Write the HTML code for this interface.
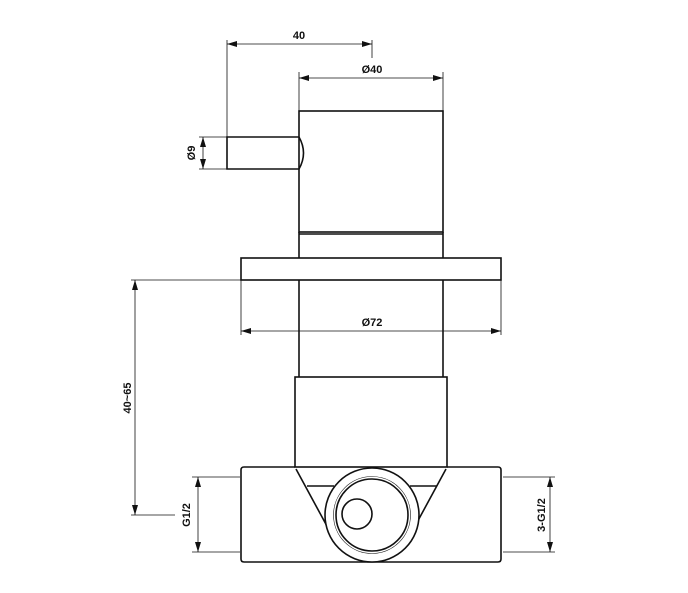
<!DOCTYPE html>
<html><head><meta charset="utf-8"><style>
html,body{margin:0;padding:0;background:#fff;width:688px;height:593px;overflow:hidden}
svg{display:block}
text{font-family:"Liberation Sans",Arial,sans-serif;font-weight:bold;font-size:11px;fill:#111}
</style></head><body>
<svg width="688" height="593" viewBox="0 0 688 593">
<defs>
<marker id="a" viewBox="0 0 10 6" refX="10" refY="3" markerWidth="10" markerHeight="6" orient="auto-start-reverse" markerUnits="userSpaceOnUse"><path d="M0,0 L10,3 L0,6 z" fill="#111"/></marker>
</defs>
<g stroke="#111" stroke-width="0.8" fill="none">
<!-- dim 40 -->
<line x1="227" y1="40" x2="227" y2="137"/>
<line x1="372" y1="40" x2="372" y2="58"/>
<line x1="227" y1="44" x2="372" y2="44" marker-start="url(#a)" marker-end="url(#a)"/>
<!-- Ø40 -->
<line x1="299" y1="72" x2="299" y2="111"/>
<line x1="443" y1="72" x2="443" y2="111"/>
<line x1="299" y1="78" x2="443" y2="78" marker-start="url(#a)" marker-end="url(#a)"/>
<!-- Ø9 -->
<line x1="199" y1="137" x2="227" y2="137"/>
<line x1="199" y1="169" x2="227" y2="169"/>
<line x1="203" y1="137" x2="203" y2="169" marker-start="url(#a)" marker-end="url(#a)"/>
<!-- Ø72 -->
<line x1="241" y1="280" x2="241" y2="335"/>
<line x1="501" y1="280" x2="501" y2="335"/>
<line x1="241" y1="331" x2="501" y2="331" marker-start="url(#a)" marker-end="url(#a)"/>
<!-- 40~65 -->
<line x1="131" y1="280" x2="241" y2="280"/>
<line x1="131" y1="515" x2="175" y2="515"/>
<line x1="135" y1="280" x2="135" y2="515" marker-start="url(#a)" marker-end="url(#a)"/>
<!-- G1/2 -->
<line x1="192" y1="477" x2="240" y2="477"/>
<line x1="192" y1="552" x2="240" y2="552"/>
<line x1="198" y1="477" x2="198" y2="552" marker-start="url(#a)" marker-end="url(#a)"/>
<!-- 3-G1/2 -->
<line x1="503" y1="477" x2="555" y2="477"/>
<line x1="503" y1="552" x2="555" y2="552"/>
<line x1="550" y1="477" x2="550" y2="552" marker-start="url(#a)" marker-end="url(#a)"/>
</g>
<g stroke="#111" stroke-width="1.6" fill="none">
<!-- handle -->
<path d="M299,137 L227,137 L227,169 L299,169 Q308,153 299,137"/>
<rect x="299" y="111" width="144" height="121"/>
<line x1="299" y1="234" x2="443" y2="234"/>
<line x1="299" y1="232" x2="299" y2="258"/>
<line x1="443" y1="232" x2="443" y2="258"/>
<rect x="241" y="258" width="260" height="22"/>
<line x1="299" y1="280" x2="299" y2="377"/>
<line x1="443" y1="280" x2="443" y2="377"/>
<rect x="295" y="377" width="152" height="90"/>
<path d="M295,467 L244,467 Q241,467 241,470 L241,559 Q241,562 244,562 L498,562 Q501,562 501,559 L501,470 Q501,467 498,467 L447,467"/>
<line x1="296" y1="469" x2="328" y2="528"/>
<line x1="446" y1="469" x2="414" y2="528"/>
<line x1="307" y1="486" x2="334" y2="486"/>
<line x1="410" y1="486" x2="437" y2="486"/>
<circle cx="372" cy="515" r="47" fill="#fff"/>
<circle cx="372" cy="515" r="36"/>
<circle cx="357" cy="514" r="15"/>
</g>
<circle cx="372" cy="515" r="38.5" stroke="#111" stroke-width="0.6" fill="none"/>
<text x="299" y="39" text-anchor="middle">40</text>
<text x="372" y="73" text-anchor="middle">Ø40</text>
<text x="372" y="326" text-anchor="middle">Ø72</text>
<text transform="translate(195,153) rotate(-90)" text-anchor="middle">Ø9</text>
<text transform="translate(131,398) rotate(-90)" text-anchor="middle">40~65</text>
<text transform="translate(190,515) rotate(-90)" text-anchor="middle">G1/2</text>
<text transform="translate(545,515) rotate(-90)" text-anchor="middle">3-G1/2</text>
</svg>
</body></html>
